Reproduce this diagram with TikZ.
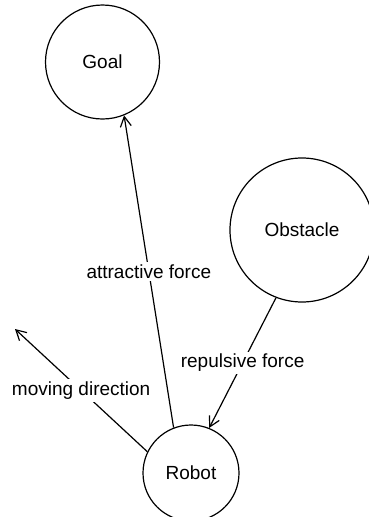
\documentclass[tikz,border=0pt]{standalone}
\usepackage{fontspec}
\setmainfont{Liberation Sans}
\usetikzlibrary{arrows.meta}

\tikzstyle{every node}=[font={\fontsize{19}{23}\selectfont}]
\tikzstyle{body}=[circle, draw, line width=1.2pt, inner sep=0pt]
\tikzstyle{force}=[line width=1.2pt, -{Straight Barb[length=10pt,width=11pt]}]
\tikzstyle{tag}=[fill=white, inner sep=2.5pt]

\begin{document}
\begin{tikzpicture}[x=1pt, y=-1pt]
    \useasboundingbox (0,0) rectangle (369,517);
    \node [body, minimum size=114pt] (goal) at (102.5,62) {Goal};
    \node [body, minimum size=144pt] (obstacle) at (302,230) {Obstacle};
    \node [body, minimum size=96pt] (robot) at (191,473) {Robot};
    \coordinate (heading) at (15,329);

    \draw [force] (robot.111) -- node [tag] {attractive force} (goal.292);
    \draw [force] (obstacle.249) -- node [tag] {repulsive force} (robot.68);
    \draw [force] (robot.154) -- node [tag] {moving direction} (heading);
\end{tikzpicture}
\end{document}
